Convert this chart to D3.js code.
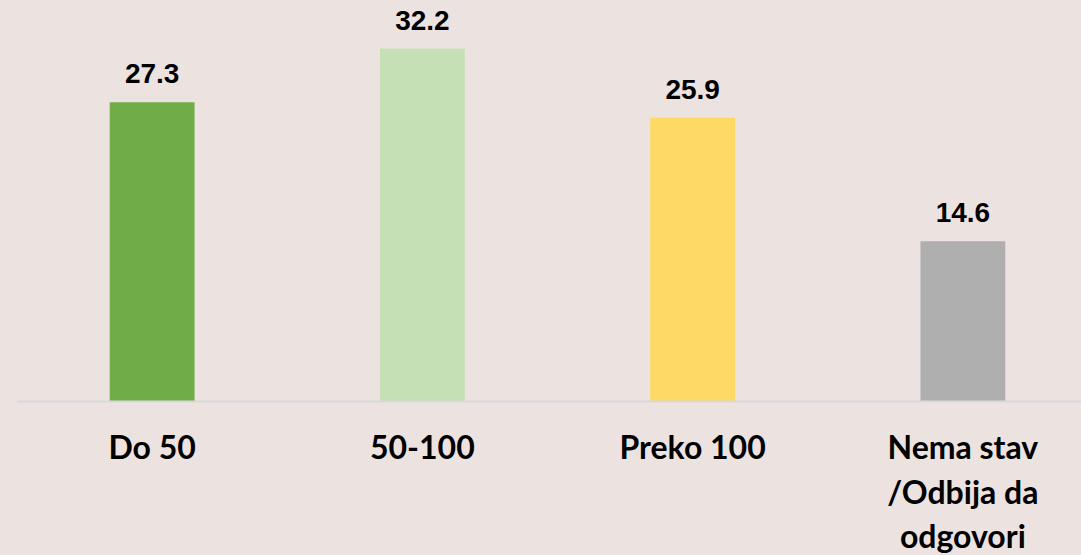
<!DOCTYPE html>
<html>
<head>
<meta charset="utf-8">
<script src="https://cdn.jsdelivr.net/npm/d3@7/dist/d3.min.js"></script>
<style>
  html, body { margin: 0; padding: 0; background: #ECE3E1; }
  svg { display: block; }
</style>
</head>
<body>
<svg id="chart" width="1081" height="555"></svg>
<script>
const categories = ["Do 50", "50-100", "Preko 100", "Nema stav /Odbija da odgovori"];
const categoryLines = [["Do 50"], ["50-100"], ["Preko 100"], ["Nema stav", "/Odbija da", "odgovori"]];
const values = [27.3, 32.2, 25.9, 14.6];
const colors = ["#70AD47", "#C5E0B4", "#FFD966", "#AFAFAF"];

const W = 1081, H = 555;
const svg = d3.select("#chart");
svg.append("rect").attr("width", W).attr("height", H).attr("fill", "#ECE3E1");

const x = d3.scaleBand().domain(categories).range([17, 1098]).paddingInner(0.686).paddingOuter(0.343);
const y = d3.scaleLinear().domain([0, 35]).range([401, 18]);

svg.selectAll("rect.bar").data(values).enter().append("rect")
  .attr("class", "bar")
  .attr("x", (d, i) => x(categories[i]))
  .attr("width", x.bandwidth())
  .attr("y", d => y(d))
  .attr("height", d => y(0) - y(d))
  .attr("fill", (d, i) => colors[i]);

svg.append("line")
  .attr("x1", 17).attr("x2", W)
  .attr("y1", y(0) + 0.5).attr("y2", y(0) + 0.5)
  .attr("stroke", "#D9D9D9").attr("stroke-width", 2);

svg.selectAll("text.val").data(values).enter().append("text")
  .attr("class", "val")
  .attr("x", (d, i) => x(categories[i]) + x.bandwidth() / 2)
  .attr("y", d => y(d) - 19)
  .attr("text-anchor", "middle")
  .attr("font-family", "'Liberation Sans', Arial, sans-serif")
  .attr("font-weight", "bold")
  .attr("font-size", 28)
  .attr("fill", "#000")
  .text(d => d.toFixed(1));

const labels = svg.selectAll("text.cat").data(categoryLines).enter().append("text")
  .attr("class", "cat")
  .attr("text-anchor", "middle")
  .attr("font-family", "Lato, 'Noto Sans', sans-serif")
  .attr("font-weight", "bold")
  .attr("font-size", 32)
  .attr("fill", "#000");
labels.each(function(lines, i) {
  const cx = x(categories[i]) + x.bandwidth() / 2;
  d3.select(this).selectAll("tspan").data(lines).enter().append("tspan")
    .attr("x", cx)
    .attr("y", (l, j) => 459 + j * 44.5)
    .text(l => l);
});
</script>
</body>
</html>
